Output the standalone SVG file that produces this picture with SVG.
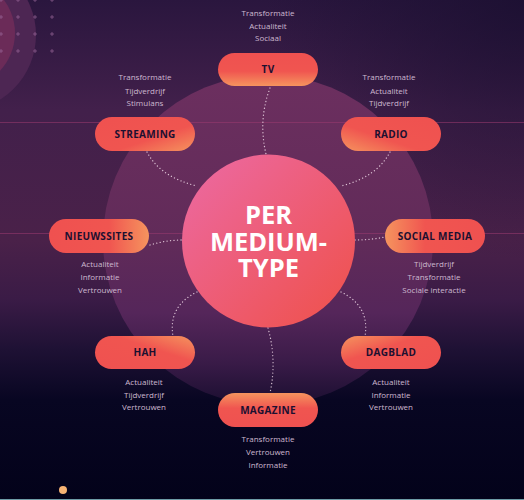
<svg xmlns="http://www.w3.org/2000/svg" width="524" height="500" viewBox="0 0 524 500">
<defs>
<linearGradient id="bg" x1="0" y1="0" x2="0" y2="500" gradientUnits="userSpaceOnUse">
<stop offset="0" stop-color="#2a163e"/>
<stop offset="0.22" stop-color="#42204b"/>
<stop offset="0.48" stop-color="#4a2149"/>
<stop offset="0.6" stop-color="#3a1b46"/>
<stop offset="0.7" stop-color="#1e1134"/>
<stop offset="0.8" stop-color="#080622"/>
<stop offset="1" stop-color="#03021a"/>
</linearGradient>
<radialGradient id="tr" cx="524" cy="0" r="260" gradientUnits="userSpaceOnUse">
<stop offset="0" stop-color="#1a0f30" stop-opacity="0.8"/>
<stop offset="1" stop-color="#1a0f30" stop-opacity="0"/>
</radialGradient>
<linearGradient id="big" x1="0" y1="75" x2="0" y2="405" gradientUnits="userSpaceOnUse">
<stop offset="0" stop-color="#6c2f5f"/>
<stop offset="0.5" stop-color="#612b59"/>
<stop offset="0.72" stop-color="#55265a"/>
<stop offset="0.87" stop-color="#3a1b48"/>
<stop offset="1" stop-color="#1a0e30"/>
</linearGradient>
<linearGradient id="hub" x1="0" y1="0" x2="1" y2="1">
<stop offset="0" stop-color="#ec6aa5"/>
<stop offset="1" stop-color="#ef5048"/>
</linearGradient>
<linearGradient id="gTV" x1="0" y1="0" x2="0" y2="1"><stop offset="0" stop-color="#ef5150"/><stop offset="0.55" stop-color="#f05550"/><stop offset="1" stop-color="#f5945e"/></linearGradient>
<linearGradient id="gMag" x1="0" y1="1" x2="0" y2="0"><stop offset="0" stop-color="#ef5150"/><stop offset="0.55" stop-color="#f05550"/><stop offset="1" stop-color="#f5945e"/></linearGradient>
<linearGradient id="gL" x1="0" y1="0" x2="1" y2="0"><stop offset="0" stop-color="#ef5150"/><stop offset="0.6" stop-color="#f05550"/><stop offset="1" stop-color="#f5945e"/></linearGradient>
<linearGradient id="gR" x1="1" y1="0" x2="0" y2="0"><stop offset="0" stop-color="#ef5150"/><stop offset="0.6" stop-color="#f05550"/><stop offset="1" stop-color="#f5945e"/></linearGradient>
<linearGradient id="gSt" x1="0" y1="0" x2="1" y2="1"><stop offset="0" stop-color="#ef5150"/><stop offset="0.6" stop-color="#f05550"/><stop offset="1" stop-color="#f5945e"/></linearGradient>
<linearGradient id="gRa" x1="1" y1="0" x2="0" y2="1"><stop offset="0" stop-color="#ef5150"/><stop offset="0.6" stop-color="#f05550"/><stop offset="1" stop-color="#f5945e"/></linearGradient>
<linearGradient id="gHa" x1="0" y1="1" x2="1" y2="0"><stop offset="0" stop-color="#ef5150"/><stop offset="0.6" stop-color="#f05550"/><stop offset="1" stop-color="#f5945e"/></linearGradient>
<linearGradient id="gDa" x1="1" y1="1" x2="0" y2="0"><stop offset="0" stop-color="#ef5150"/><stop offset="0.6" stop-color="#f05550"/><stop offset="1" stop-color="#f5945e"/></linearGradient>
</defs>
<style>
.pill-t{font-family:"Open Sans","Liberation Sans",sans-serif;font-weight:700;font-size:10px;fill:#1c1030;text-anchor:middle;letter-spacing:0.3px}
.sub{font-family:"Open Sans","Liberation Sans",sans-serif;font-size:8px;fill:#cdb8d0;text-anchor:middle}
.hub-t{font-family:"Open Sans","Liberation Sans",sans-serif;font-weight:700;font-size:25.5px;fill:#ffffff;text-anchor:middle}
.conn{fill:none;stroke:#f0dbe8;stroke-opacity:0.85;stroke-width:1.3;stroke-dasharray:0.1 3.4;stroke-linecap:round}
.plus{stroke:#9a6a9a;stroke-width:0.8;stroke-opacity:0.8}
.hl{stroke:#9a3a70;stroke-opacity:0.55;stroke-width:1}
</style>
<rect width="524" height="500" fill="url(#bg)"/>
<rect width="524" height="500" fill="url(#tr)"/>
<circle cx="-40" cy="35" r="76" fill="#4d2653"/>
<circle cx="-40" cy="33" r="55" fill="#6b2b58"/>
<g class="plus">
<path d="M1,-2v4M-1,0h4M18,-2v4M16,0h4M35,-2v4M33,0h4M52,-2v4M50,0h4"/>
<path d="M1,15v4M-1,17h4M18,15v4M16,17h4M35,15v4M33,17h4M52,15v4M50,17h4"/>
<path d="M1,32v4M-1,34h4M18,32v4M16,34h4M35,32v4M33,34h4M52,32v4M50,34h4"/>
<path d="M1,49v4M-1,51h4M18,49v4M16,51h4M35,49v4M33,51h4M52,49v4M50,51h4"/>
</g>
<circle cx="268" cy="240" r="165" fill="url(#big)"/>
<line class="hl" x1="0" y1="122.5" x2="524" y2="122.5"/>
<line class="hl" x1="0" y1="233.5" x2="524" y2="233.5"/>
<g id="connectors">
<path class="conn" d="M270,88 Q258,120 266,154"/>
<path class="conn" d="M147,152 Q160,177 197,186"/>
<path class="conn" d="M390,152 Q377,177 341,186"/>
<path class="conn" d="M150,245 Q166,240 183,240"/>
<path class="conn" d="M355,240 Q370,240 385,237"/>
<path class="conn" d="M197,292 Q168,306 173,336"/>
<path class="conn" d="M341,292 Q370,306 365,336"/>
<path class="conn" d="M268,328 Q277,360 270,393"/>
</g>
<g id="hub">
<circle cx="268.5" cy="241" r="86.5" fill="url(#hub)"/>
<text class="hub-t" x="268.5" y="224">PER</text>
<text class="hub-t" x="268.5" y="250.5">MEDIUM-</text>
<text class="hub-t" x="268.5" y="277">TYPE</text>
</g>
<g id="tv">
<rect x="218" y="53" width="100" height="33" rx="16.5" fill="url(#gTV)"/>
<text class="pill-t" x="268" y="73">TV</text>
<text class="sub" x="268" y="16">Transformatie</text>
<text class="sub" x="268" y="28.5">Actualiteit</text>
<text class="sub" x="268" y="41">Sociaal</text>
</g>
<g id="streaming">
<rect x="95" y="117" width="100" height="34" rx="17" fill="url(#gSt)"/>
<text class="pill-t" x="145" y="137.5">STREAMING</text>
<text class="sub" x="145" y="80">Transformatie</text>
<text class="sub" x="145" y="93.5">Tijdverdrijf</text>
<text class="sub" x="145" y="106">Stimulans</text>
</g>
<g id="radio">
<rect x="341" y="117" width="100" height="34" rx="17" fill="url(#gRa)"/>
<text class="pill-t" x="391" y="137.5">RADIO</text>
<text class="sub" x="389" y="80">Transformatie</text>
<text class="sub" x="389" y="93.5">Actualiteit</text>
<text class="sub" x="389" y="106">Tijdverdrijf</text>
</g>
<g id="nieuwssites">
<rect x="49" y="219" width="100" height="34" rx="17" fill="url(#gL)"/>
<text class="pill-t" x="99" y="239.5">NIEUWSSITES</text>
<text class="sub" x="100" y="267">Actualiteit</text>
<text class="sub" x="100" y="280">Informatie</text>
<text class="sub" x="100" y="293">Vertrouwen</text>
</g>
<g id="socialmedia">
<rect x="385" y="219" width="100" height="34" rx="17" fill="url(#gR)"/>
<text class="pill-t" x="435" y="239.5">SOCIAL MEDIA</text>
<text class="sub" x="434" y="267">Tijdverdrijf</text>
<text class="sub" x="434" y="280">Transformatie</text>
<text class="sub" x="434" y="293">Sociale interactie</text>
</g>
<g id="hah">
<rect x="95" y="336" width="100" height="33" rx="16.5" fill="url(#gHa)"/>
<text class="pill-t" x="145" y="356">HAH</text>
<text class="sub" x="144" y="385">Actualiteit</text>
<text class="sub" x="144" y="397.5">Tijdverdrijf</text>
<text class="sub" x="144" y="410">Vertrouwen</text>
</g>
<g id="dagblad">
<rect x="341" y="336" width="100" height="33" rx="16.5" fill="url(#gDa)"/>
<text class="pill-t" x="391" y="356">DAGBLAD</text>
<text class="sub" x="391" y="385">Actualiteit</text>
<text class="sub" x="391" y="397.5">Informatie</text>
<text class="sub" x="391" y="410">Vertrouwen</text>
</g>
<g id="magazine">
<rect x="218" y="393" width="100" height="34" rx="17" fill="url(#gMag)"/>
<text class="pill-t" x="268" y="413.5">MAGAZINE</text>
<text class="sub" x="268" y="442">Transformatie</text>
<text class="sub" x="268" y="455">Vertrouwen</text>
<text class="sub" x="268" y="467.5">Informatie</text>
</g>
<circle cx="63" cy="490" r="4" fill="#f7b374"/>
<rect x="0" y="499" width="524" height="1" fill="#6f9ca6"/>
</svg>
